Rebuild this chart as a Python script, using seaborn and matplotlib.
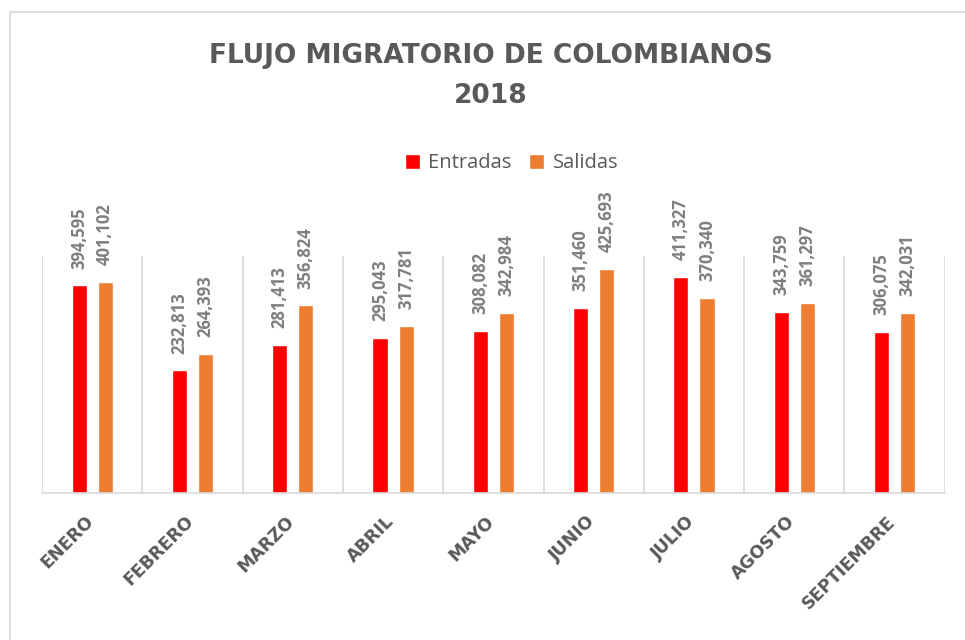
# Flujo migratorio de colombianos 2018 - grouped bar chart

import pandas as pd
import matplotlib.pyplot as plt
import matplotlib.transforms as mtransforms
import seaborn as sns
from matplotlib.patches import Rectangle

MESES = ["ENERO", "FEBRERO", "MARZO", "ABRIL", "MAYO",
         "JUNIO", "JULIO", "AGOSTO", "SEPTIEMBRE"]
ENTRADAS = [394595, 232813, 281413, 295043, 308082, 351460, 411327, 343759, 306075]
SALIDAS = [401102, 264393, 356824, 317781, 342984, 425693, 370340, 361297, 342031]
SERIES = ["Entradas", "Salidas"]
COLORES = ["#FF0000", "#ED7D31"]

sns.set_theme(style="white")
plt.rcParams["font.family"] = ["Open Sans", "DejaVu Sans"]

WIDE = ["DejaVu Sans"]

# ------------------------------------------------------------
# Data in long form
# ------------------------------------------------------------
df = pd.DataFrame({
    "mes": MESES * 2,
    "serie": [SERIES[0]] * len(MESES) + [SERIES[1]] * len(MESES),
    "valor": ENTRADAS + SALIDAS,
})

fig = plt.figure(figsize=(9.65, 6.4), dpi=100)
ax = fig.add_axes([0.0435, 0.2297, 0.9355, 0.370])

sns.barplot(data=df, x="mes", y="valor", hue="serie", palette=COLORES,
            saturation=1, width=0.52, gap=0.42, errorbar=None, ax=ax)

# data labels
for cont in ax.containers:
    ax.bar_label(cont, fmt="{:,.0f}", rotation=90, padding=12,
                 fontsize=12, fontweight="bold", color="#7F7F7F")

ax.set_xlim(-0.5, len(MESES) - 0.5)
ax.set_ylim(0, 450000)
ax.set_yticks([])
ax.set_xlabel("")
ax.set_ylabel("")

# category separators
for i in range(len(MESES) + 1):
    ax.axvline(i - 0.5, color="#D9D9D9", lw=1.2, zorder=0)

for s in ["top", "left", "right"]:
    ax.spines[s].set_visible(False)
ax.spines["bottom"].set_color("#D9D9D9")
ax.spines["bottom"].set_linewidth(1.2)

ax.tick_params(axis="x", length=0, pad=14)
ax.set_xticks(range(len(MESES)))
ax.set_xticklabels(MESES, rotation=45, ha="right", rotation_mode="anchor",
                   fontsize=12.5, fontweight="bold", color="#595959",
                   family=WIDE)
shift = mtransforms.ScaledTranslation(-8 / 100, 0, fig.dpi_scale_trans)
for lbl in ax.get_xticklabels():
    lbl.set_transform(lbl.get_transform() + shift)

# legend
handles, labels = ax.get_legend_handles_labels()
ax.legend(handles, labels, loc="center", bbox_to_anchor=(0.53, 0.745),
          bbox_transform=fig.transFigure, ncol=2, frameon=False,
          handlelength=0.75, handleheight=0.75, handletextpad=0.4,
          columnspacing=0.9, prop={"size": 14.5}, labelcolor="#595959")

# title
fig.text(0.509, 0.882, "FLUJO MIGRATORIO DE COLOMBIANOS\n2018",
         ha="center", va="center", fontsize=19, fontweight="bold",
         color="#595959", linespacing=1.7, family=WIDE)

# chart border
fig.patches.append(Rectangle((10 / 965, -0.1), 1.0, 1.08125, fill=False,
                             edgecolor="#D9D9D9", lw=1.2,
                             transform=fig.transFigure, figure=fig))

fig.savefig("out.png", dpi=100)
